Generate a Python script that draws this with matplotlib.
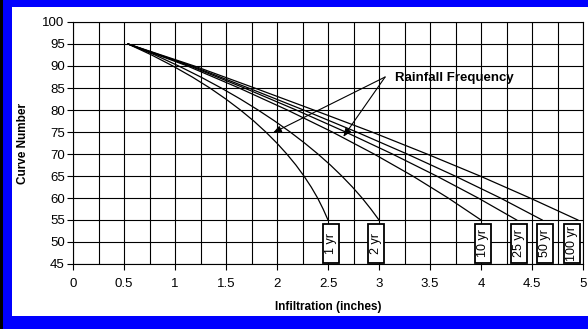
import matplotlib
matplotlib.use("Agg")
import matplotlib.pyplot as plt
from matplotlib.patches import Rectangle
from matplotlib.ticker import MultipleLocator

plt.rcParams['font.family'] = ['Liberation Sans', 'DejaVu Sans']

# Curve number steps (finer steps for the two short-return-period curves)
cn_fine = [95, 92.5, 90, 87.5, 85, 82.5, 80, 77.5, 75, 72.5, 70, 67.5, 65, 62.5, 60, 57.5, 55]
cn_coarse = [95, 90, 85, 80, 75, 70, 65, 60, 55]

# Infiltration (inches) for each rainfall frequency
inf_1yr = [0.54, 0.771, 0.979, 1.169, 1.342, 1.498, 1.641, 1.772, 1.890, 1.998, 2.096, 2.185, 2.264, 2.335, 2.398, 2.452, 2.50]
inf_2yr = [0.54, 0.805, 1.036, 1.252, 1.453, 1.640, 1.814, 1.977, 2.129, 2.270, 2.401, 2.523, 2.635, 2.739, 2.834, 2.920, 3.00]
inf_10yr = [0.54, 1.122, 1.628, 2.101, 2.542, 2.951, 3.330, 3.678, 4.00]
inf_25yr = [0.54, 1.146, 1.680, 2.188, 2.672, 3.131, 3.564, 3.972, 4.35]
inf_50yr = [0.54, 1.165, 1.720, 2.260, 2.780, 3.275, 3.745, 4.190, 4.60]
inf_100yr = [0.54, 1.190, 1.780, 2.360, 2.930, 3.470, 3.990, 4.480, 4.95]

series = [
    ("1 yr", cn_fine, inf_1yr, 2.53),
    ("2 yr", cn_fine, inf_2yr, 2.97),
    ("10 yr", cn_coarse, inf_10yr, 4.02),
    ("25 yr", cn_coarse, inf_25yr, 4.37),
    ("50 yr", cn_coarse, inf_50yr, 4.63),
    ("100 yr", cn_coarse, inf_100yr, 4.89),
]

W, H = 588, 329
fig = plt.figure(figsize=(W / 100, H / 100), dpi=100)
fig.patch.set_facecolor('#0000FF')

# white panel inside the blue frame, with a dark rule on the far left
fig.add_artist(Rectangle((12 / W, 13 / H), 1 - 12 / W, (H - 7 - 13) / H,
                         transform=fig.transFigure, facecolor='white',
                         edgecolor='none', zorder=0))
fig.add_artist(Rectangle((0, 0), 3 / W, 1, transform=fig.transFigure,
                         facecolor='black', edgecolor='none', zorder=1))

ax = fig.add_axes([73 / W, 65 / H, 510 / W, 242 / H])
ax.set_xlim(0, 5)
ax.set_ylim(45, 100)
ax.xaxis.set_major_locator(MultipleLocator(0.5))
ax.xaxis.set_minor_locator(MultipleLocator(0.25))
ax.yaxis.set_major_locator(MultipleLocator(5))
ax.grid(True, which='both', axis='x', color='black', lw=0.8)
ax.grid(True, which='major', axis='y', color='black', lw=0.8)
ax.set_axisbelow(True)
ax.tick_params(axis='both', which='major', direction='out', length=4,
               width=0.8, labelsize=9.5, pad=2)
ax.tick_params(axis='x', which='minor', length=0)
ax.tick_params(axis='x', pad=6)
ax.set_xticks([0, 0.5, 1, 1.5, 2, 2.5, 3, 3.5, 4, 4.5, 5])
ax.set_xticklabels(['0', '0.5', '1', '1.5', '2', '2.5', '3', '3.5', '4', '4.5', '5'])
for s in ax.spines.values():
    s.set_linewidth(0.8)

for label, cn, inf, box_x in series:
    ax.plot(inf, cn, color='black', lw=0.9, zorder=3)
    ax.add_patch(Rectangle((box_x - 0.08, 45.25), 0.16, 8.85,
                           facecolor='white', edgecolor='black', lw=1.3, zorder=4))
    ax.text(box_x, 49.7, label, rotation=90, ha='center', va='center',
            fontsize=9, zorder=5)

ax.set_xlabel('Infiltration (inches)', fontsize=8.5, fontweight='bold', labelpad=8)
ax.set_ylabel('Curve Number', fontsize=8.5, fontweight='bold', labelpad=10)

ax.text(3.16, 87.3, 'Rainfall Frequency', fontsize=9.5, fontweight='bold',
        ha='left', va='center', zorder=5)
arrow = dict(arrowstyle='-|>,head_length=0.5,head_width=0.2', color='black',
             lw=0.8, shrinkA=0, shrinkB=0)
ax.annotate('', xy=(1.96, 74.8), xytext=(3.06, 87.5), arrowprops=arrow, zorder=5)
ax.annotate('', xy=(2.65, 73.9), xytext=(3.06, 87.5), arrowprops=arrow, zorder=5)

fig.savefig('out.png', dpi=100, facecolor=fig.get_facecolor())
